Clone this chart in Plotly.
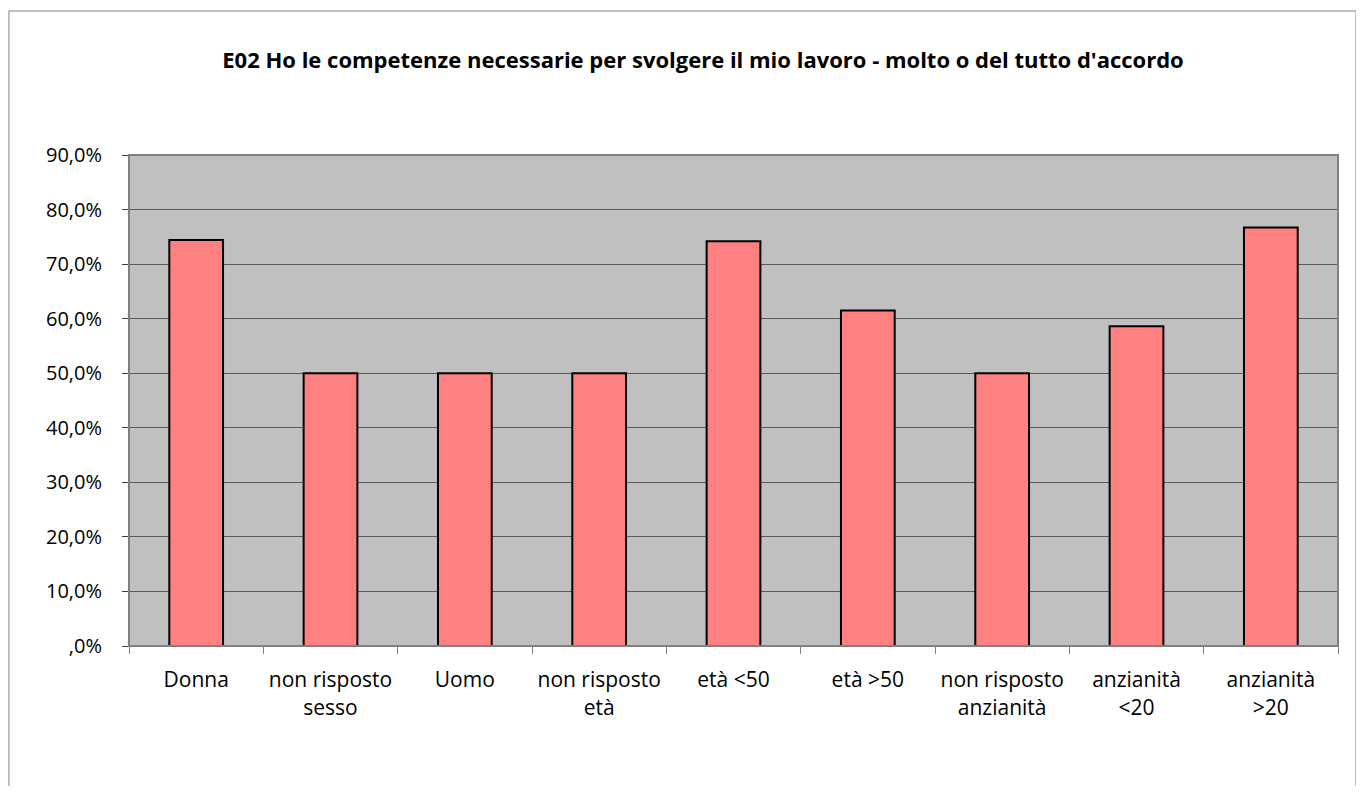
import plotly.graph_objects as go

categories = [
    "Donna",
    "non risposto<br>sesso",
    "Uomo",
    "non risposto<br>età",
    "età <50",
    "età >50",
    "non risposto<br>anzianità",
    "anzianità<br><20",
    "anzianità<br>>20",
]
values = [74.4, 50.0, 50.0, 50.0, 74.2, 61.5, 50.0, 58.6, 76.7]

tick_vals = [0, 10, 20, 30, 40, 50, 60, 70, 80, 90]
tick_text = [",0%", "10,0%", "20,0%", "30,0%", "40,0%", "50,0%", "60,0%", "70,0%", "80,0%", "90,0%"]

title = "E02 Ho le competenze necessarie per svolgere il mio lavoro - molto o del tutto d'accordo"

fig = go.Figure(
    go.Bar(
        x=categories,
        y=values,
        marker=dict(color="#FF8080", line=dict(color="black", width=2)),
        hoverinfo="x+y",
    )
)

# outer chart frame (grey) and plot-area border
fig.add_shape(type="rect", xref="paper", yref="paper",
              x0=-0.0993, x1=1.0149, y0=-0.32, y1=1.2933,
              line=dict(color="#808080", width=1), layer="below")
fig.add_shape(type="rect", xref="paper", yref="paper",
              x0=0, x1=1, y0=0, y1=1,
              line=dict(color="#808080", width=2), layer="above")

fig.update_layout(
    width=1348,
    height=778,
    margin=dict(l=121, r=18, t=147, b=140),
    paper_bgcolor="white",
    plot_bgcolor="#C0C0C0",
    bargap=0.6,
    showlegend=False,
    font=dict(family="Open Sans", size=20, color="black"),
    title=dict(
        text=f"<b>{title}</b>",
        x=0.5156, xref="container", xanchor="center",
        y=0.933, yref="container", yanchor="middle",
        font=dict(family="Open Sans", size=22, color="black"),
    ),
    xaxis=dict(
        showline=True, linecolor="#404040", linewidth=1,
        ticks="outside", tickson="boundaries", ticklen=7, tickcolor="#808080",
        ticklabelstandoff=15, tickfont=dict(size=21),
        showgrid=False,
    ),
    yaxis=dict(
        range=[0, 90],
        tickvals=tick_vals, ticktext=tick_text,
        showline=True, linecolor="#404040", linewidth=1,
        ticks="outside", ticklen=6, tickcolor="#404040",
        ticklabelstandoff=16,
        showgrid=True, gridcolor="#5a5a5a", gridwidth=1,
        zeroline=False,
    ),
)

fig.write_html("out.html")
